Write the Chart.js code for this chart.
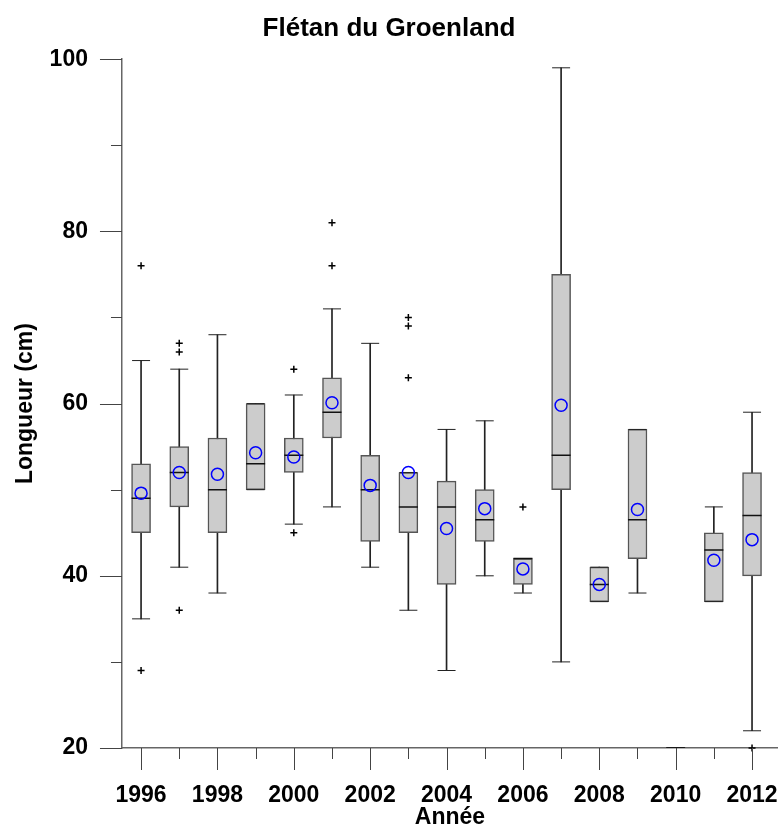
<!DOCTYPE html>
<html>
<head>
<meta charset="utf-8">
<script src="https://cdn.jsdelivr.net/npm/chart.js@4"></script>
<style>
    html, body { margin: 0; padding: 0; background: #fff; }
</style>
</head>
<body>
<canvas id="myChart" width="778" height="830"></canvas>
<script>
// data
const years = [1996, 1997, 1998, 1999, 2000, 2001, 2002, 2003, 2004, 2005, 2006, 2007, 2008, 2009, 2010, 2011, 2012];
const whiskerLow = [35, 41, 38, 50, 46, 48, 41, 36, 29, 40, 38, 30, 37, 38, 20, 37, 22];
const q1 = [45, 48, 45, 50, 52, 56, 44, 45, 39, 44, 39, 50, 37, 42, 20, 37, 40];
const median = [49, 52, 50, 53, 54, 59, 50, 48, 48, 46.5, 42, 54, 39, 46.5, 20, 43, 47];
const q3 = [53, 55, 56, 60, 56, 63, 54, 52, 51, 50, 42, 75, 41, 57, 20, 45, 52];
const whiskerHigh = [65, 64, 68, 60, 61, 71, 67, 52, 57, 58, 42, 99, 41, 57, 20, 48, 59];
const means = [49.6, 52.0, 51.8, 54.3, 53.8, 60.1, 50.5, 52.0, 45.5, 47.8, 40.8, 59.8, 39.0, 47.7, null, 41.8, 44.2];
const outliers = [[76, 29], [67, 66, 36], [], [], [64, 45], [81, 76], [], [101, 70, 69, 63], [], [], [48], [], [], [], [], [], [20]];

const font = 'Liberation Sans, Arial, sans-serif';
const clear = 'rgba(0,0,0,0)';

// tick marks: long ones on labelled values, short ones in between
const tickMarks = {
    id: 'tickMarks',
    afterDraw(chart) {
        const { ctx } = chart;
        const x = chart.scales.x;
        const y = chart.scales.y;
        ctx.save();
        ctx.strokeStyle = '#444';
        ctx.lineWidth = 1;
        ctx.beginPath();
        x.ticks.forEach((t) => {
            const px = Math.round(x.getPixelForValue(t.value)) + 0.5;
            const len = t.value % 2 === 0 ? 22 : 11;
            ctx.moveTo(px, x.top);
            ctx.lineTo(px, x.top + len);
        });
        y.ticks.forEach((t) => {
            const py = Math.round(y.getPixelForValue(t.value)) + 0.5;
            const len = t.value % 20 === 0 ? 22 : 11;
            ctx.moveTo(y.right - len, py);
            ctx.lineTo(y.right, py);
        });
        ctx.stroke();
        ctx.restore();
    },
};

const pts = (vals) => years.map((yr, i) => ({ x: yr, y: vals[i] })).filter((p) => p.y !== null);
const capPoints = pts(whiskerLow).concat(pts(whiskerHigh));
const outlierPoints = [];
years.forEach((yr, i) => outliers[i].forEach((v) => outlierPoints.push({ x: yr, y: v })));

const data = {
    datasets: [
        {
            type: 'bar',
            data: years.map((yr, i) => ({ x: yr, y: [whiskerLow[i], whiskerHigh[i]] })),
            backgroundColor: '#222',
            borderWidth: 0,
            barThickness: 1,
            grouped: false,
            order: 6,
        },
        {
            type: 'bar',
            data: years.map((yr, i) => ({ x: yr, y: [q1[i], q3[i]] })),
            backgroundColor: '#cccccc',
            borderColor: '#555',
            borderWidth: 1.5,
            borderSkipped: false,
            barThickness: 19,
            grouped: false,
            order: 5,
        },
        {
            type: 'scatter',
            data: capPoints,
            pointStyle: 'line',
            radius: 9,
            borderColor: '#222',
            borderWidth: 1,
            order: 4,
        },
        {
            type: 'scatter',
            data: pts(median),
            pointStyle: 'line',
            radius: 9.5,
            borderColor: '#111',
            borderWidth: 1.5,
            order: 3,
        },
        {
            type: 'scatter',
            data: pts(means),
            pointStyle: 'circle',
            radius: 6,
            borderColor: '#0000ff',
            backgroundColor: clear,
            borderWidth: 1.5,
            order: 2,
        },
        {
            type: 'scatter',
            data: outlierPoints,
            pointStyle: 'cross',
            radius: 3.5,
            borderColor: '#000',
            borderWidth: 1.5,
            clip: false,
            order: 1,
        },
    ],
};

const config = {
    type: 'bar',
    data,
    options: {
        responsive: false,
        animation: false,
        layout: { padding: 0, autoPadding: false },
        plugins: {
            legend: { display: false },
            tooltip: { enabled: false },
            title: {
                display: true,
                text: 'Flétan du Groenland',
                color: '#000',
                font: { family: font, size: 26, weight: 'bold' },
                padding: { top: 13, bottom: 15 },
            },
        },
        scales: {
            x: {
                type: 'linear',
                min: 1995.5,
                max: 2012.68,
                offset: false,
                grid: { display: true, drawOnChartArea: false, color: clear, tickColor: clear, drawTicks: true, tickLength: 34, offset: false },
                border: { display: true, color: '#666', width: 1.5 },
                ticks: {
                    stepSize: 1,
                    includeBounds: false,
                    autoSkip: false,
                    maxRotation: 0,
                    padding: 0,
                    color: '#000',
                    font: { family: font, size: 23, weight: 'bold' },
                    callback: (v) => (v % 2 === 0 ? String(v) : ''),
                },
                title: {
                    display: true,
                    text: 'Année',
                    color: '#000',
                    font: { family: font, size: 23, weight: 'bold' },
                    padding: { top: -5.4, bottom: -1.8 },
                },
            },
            y: {
                min: 20,
                max: 100,
                grid: { display: true, drawOnChartArea: false, color: clear, tickColor: clear, drawTicks: true, tickLength: 34 },
                border: { display: true, color: '#666', width: 1.5 },
                ticks: {
                    stepSize: 10,
                    padding: 0,
                    color: '#000',
                    font: { family: font, size: 23, weight: 'bold' },
                    callback: (v) => (v % 20 === 0 ? String(v) : ''),
                },
                title: {
                    display: true,
                    text: 'Longueur (cm)',
                    color: '#000',
                    font: { family: font, size: 23, weight: 'bold' },
                    padding: { top: 12.2, bottom: 9.8 },
                },
            },
        },
    },
    plugins: [tickMarks],
};

const myChart = new Chart(document.getElementById('myChart'), config);
</script>
</body>
</html>
